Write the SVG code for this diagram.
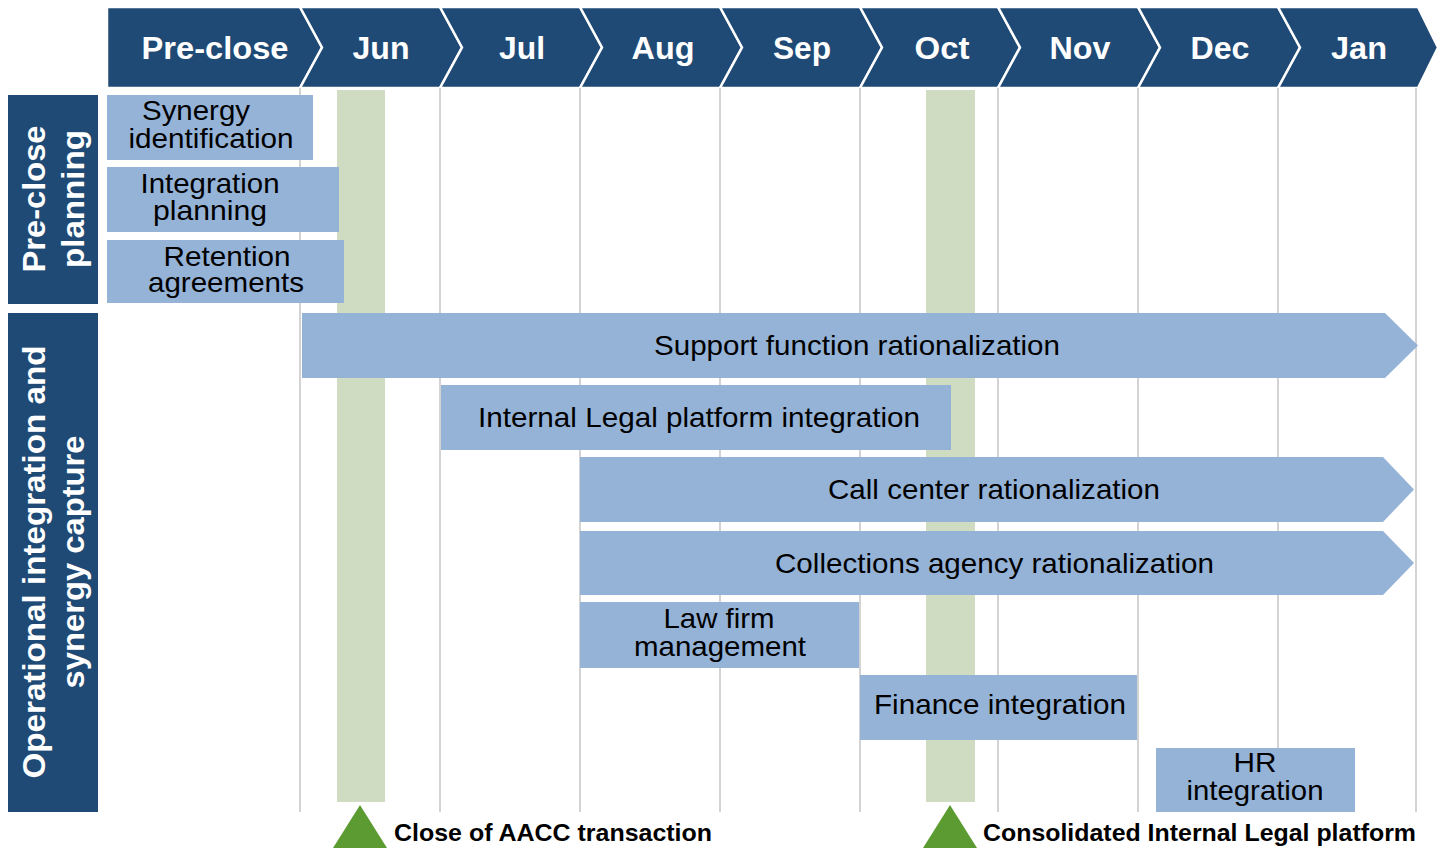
<svg xmlns="http://www.w3.org/2000/svg" width="1443" height="851" viewBox="0 0 1443 851">
<style>
.hdr{fill:#1f4a75;stroke:#ffffff;stroke-width:2.5;stroke-linejoin:miter}
.ht{font-family:"Liberation Sans",Arial,sans-serif;font-weight:bold;font-size:31px;fill:#ffffff;text-anchor:middle}
.side{fill:#1f4a75}
.st{font-family:"Liberation Sans",Arial,sans-serif;font-weight:bold;font-size:31px;fill:#ffffff;text-anchor:middle}
.grid{stroke:#c4c4c4;stroke-width:1.5}
.ms{fill:#d0dcc1}
.bar{fill:#95b3d7}
.bt{font-family:"Liberation Sans",Arial,sans-serif;font-size:28px;fill:#000000;text-anchor:middle}
.tri{fill:#5b9b32}
.mt{font-family:"Liberation Sans",Arial,sans-serif;font-weight:bold;font-size:24px;fill:#000000}
</style>
<rect width="1443" height="851" fill="#ffffff"/>
<g id="header">
<polygon class="hdr" points="107,7 300,7 322,47.5 300,88 107,88"/>
<polygon class="hdr" points="300,7 440,7 462,47.5 440,88 300,88 322,47.5"/>
<polygon class="hdr" points="440,7 580,7 602,47.5 580,88 440,88 462,47.5"/>
<polygon class="hdr" points="580,7 720,7 742,47.5 720,88 580,88 602,47.5"/>
<polygon class="hdr" points="720,7 860,7 882,47.5 860,88 720,88 742,47.5"/>
<polygon class="hdr" points="860,7 998,7 1020,47.5 998,88 860,88 882,47.5"/>
<polygon class="hdr" points="998,7 1138,7 1160,47.5 1138,88 998,88 1020,47.5"/>
<polygon class="hdr" points="1138,7 1278,7 1300,47.5 1278,88 1138,88 1160,47.5"/>
<polygon class="hdr" points="1278,7 1418,7 1438,47.5 1418,88 1278,88 1300,47.5"/>
<text class="ht" x="215" y="59" textLength="147" lengthAdjust="spacingAndGlyphs">Pre-close</text>
<text class="ht" x="381" y="59" textLength="57" lengthAdjust="spacingAndGlyphs">Jun</text>
<text class="ht" x="522" y="59" textLength="46" lengthAdjust="spacingAndGlyphs">Jul</text>
<text class="ht" x="663" y="59" textLength="63" lengthAdjust="spacingAndGlyphs">Aug</text>
<text class="ht" x="802" y="59" textLength="58" lengthAdjust="spacingAndGlyphs">Sep</text>
<text class="ht" x="942" y="59" textLength="55" lengthAdjust="spacingAndGlyphs">Oct</text>
<text class="ht" x="1080" y="59" textLength="61" lengthAdjust="spacingAndGlyphs">Nov</text>
<text class="ht" x="1220" y="59" textLength="59" lengthAdjust="spacingAndGlyphs">Dec</text>
<text class="ht" x="1359" y="59" textLength="56" lengthAdjust="spacingAndGlyphs">Jan</text>
</g>
<g id="side-preclose">
<rect class="side" x="8" y="95" width="90" height="209"/>
<text class="st" transform="translate(45,199) rotate(-90)"><tspan x="0" y="0" textLength="147" lengthAdjust="spacingAndGlyphs">Pre-close</tspan><tspan x="0" y="39" textLength="138" lengthAdjust="spacingAndGlyphs">planning</tspan></text>
</g>
<g id="side-operational">
<rect class="side" x="8" y="313" width="90" height="499"/>
<text class="st" transform="translate(45,562) rotate(-90)"><tspan x="0" y="0" textLength="433" lengthAdjust="spacingAndGlyphs">Operational integration and</tspan><tspan x="0" y="39" textLength="253" lengthAdjust="spacingAndGlyphs">synergy capture</tspan></text>
</g>
<g id="grid">
<line class="grid" x1="300" y1="88" x2="300" y2="812"/>
<line class="grid" x1="440" y1="88" x2="440" y2="812"/>
<line class="grid" x1="580" y1="88" x2="580" y2="812"/>
<line class="grid" x1="720" y1="88" x2="720" y2="812"/>
<line class="grid" x1="860" y1="88" x2="860" y2="812"/>
<line class="grid" x1="998" y1="88" x2="998" y2="812"/>
<line class="grid" x1="1138" y1="88" x2="1138" y2="812"/>
<line class="grid" x1="1278" y1="88" x2="1278" y2="812"/>
<line class="grid" x1="1416" y1="88" x2="1416" y2="812"/>
</g>
<g id="milestone-columns">
<rect class="ms" x="337" y="90" width="48" height="712"/>
<rect class="ms" x="926" y="90" width="49" height="712"/>
</g>
<g id="synergy-identification">
<rect class="bar" x="107" y="95" width="206" height="65"/>
<text class="bt"><tspan x="196" y="120" textLength="108" lengthAdjust="spacingAndGlyphs">Synergy</tspan><tspan x="211" y="148" textLength="165" lengthAdjust="spacingAndGlyphs">identification</tspan></text>
</g>
<g id="integration-planning">
<rect class="bar" x="107" y="167" width="232" height="65"/>
<text class="bt"><tspan x="210" y="193" textLength="139" lengthAdjust="spacingAndGlyphs">Integration</tspan><tspan x="210" y="220" textLength="114" lengthAdjust="spacingAndGlyphs">planning</tspan></text>
</g>
<g id="retention-agreements">
<rect class="bar" x="107" y="240" width="237" height="63"/>
<text class="bt"><tspan x="227" y="266" textLength="127" lengthAdjust="spacingAndGlyphs">Retention</tspan><tspan x="226" y="292" textLength="156" lengthAdjust="spacingAndGlyphs">agreements</tspan></text>
</g>
<g id="support-function">
<polygon class="bar" points="302,313 1385,313 1418,345.5 1385,378 302,378"/>
<text class="bt" x="857" y="355" textLength="406" lengthAdjust="spacingAndGlyphs">Support function rationalization</text>
</g>
<g id="internal-legal">
<rect class="bar" x="441" y="385" width="510" height="65"/>
<text class="bt" x="699" y="427" textLength="442" lengthAdjust="spacingAndGlyphs">Internal Legal platform integration</text>
</g>
<g id="call-center">
<polygon class="bar" points="580,457 1383,457 1414,489.5 1383,522 580,522"/>
<text class="bt" x="994" y="499" textLength="332" lengthAdjust="spacingAndGlyphs">Call center rationalization</text>
</g>
<g id="collections-agency">
<polygon class="bar" points="580,531 1383,531 1414,563 1383,595 580,595"/>
<text class="bt" x="994.5" y="573" textLength="439" lengthAdjust="spacingAndGlyphs">Collections agency rationalization</text>
</g>
<g id="law-firm">
<rect class="bar" x="580" y="602" width="279" height="66"/>
<text class="bt"><tspan x="719" y="628" textLength="111" lengthAdjust="spacingAndGlyphs">Law firm</tspan><tspan x="720" y="656" textLength="172" lengthAdjust="spacingAndGlyphs">management</tspan></text>
</g>
<g id="finance-integration">
<rect class="bar" x="860" y="675" width="277" height="65"/>
<text class="bt" x="1000" y="714" textLength="252" lengthAdjust="spacingAndGlyphs">Finance integration</text>
</g>
<g id="hr-integration">
<rect class="bar" x="1156" y="748" width="199" height="64"/>
<text class="bt"><tspan x="1255" y="772" textLength="43" lengthAdjust="spacingAndGlyphs">HR</tspan><tspan x="1255" y="800" textLength="137" lengthAdjust="spacingAndGlyphs">integration</tspan></text>
</g>
<g id="milestone-close">
<polygon class="tri" points="360,805 387,848 333,848"/>
<text class="mt" x="394" y="841" textLength="318" lengthAdjust="spacingAndGlyphs">Close of AACC transaction</text>
</g>
<g id="milestone-legal">
<polygon class="tri" points="950,805 977,848 923,848"/>
<text class="mt" x="983" y="841" textLength="433" lengthAdjust="spacingAndGlyphs">Consolidated Internal Legal platform</text>
</g>
</svg>
